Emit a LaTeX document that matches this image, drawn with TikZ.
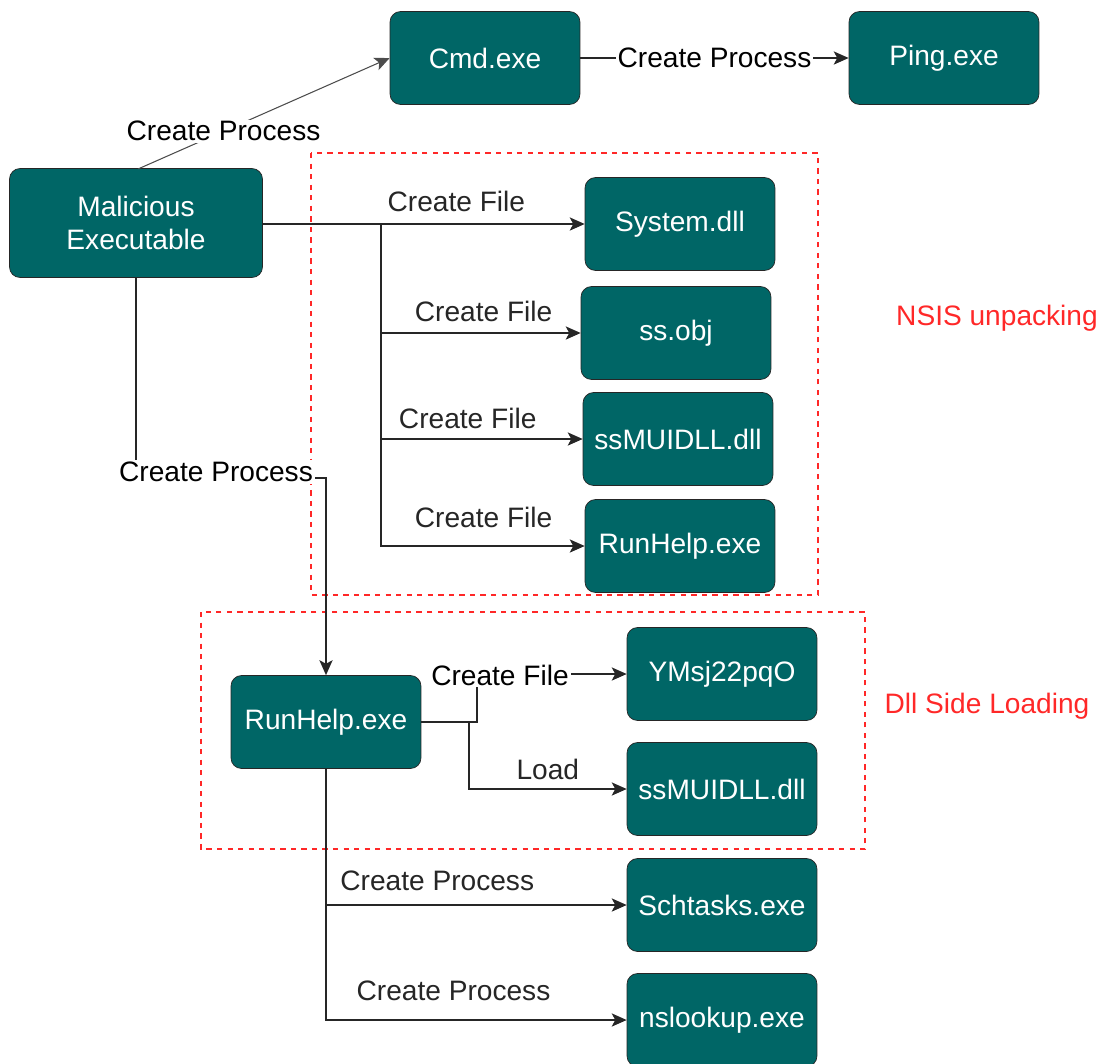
\documentclass[tikz,border=0pt]{standalone}
\usepackage{fontspec}
\setmainfont{Liberation Sans}
\usetikzlibrary{calc,positioning,arrows.meta}
\definecolor{procteal}{RGB}{0,102,102}
\definecolor{noteRed}{RGB}{255,40,40}

\begin{document}
\begin{tikzpicture}[x=0.02cm, y=-0.02cm, >={Stealth[length=8.5pt,width=7.5pt,inset=2pt]},
                    font=\fontsize{16}{19}\selectfont]
        \tikzset{
            proc/.style={draw=black!85, fill=procteal, text=white, rounded corners=6pt,
                         minimum width=3.8cm, minimum height=1.86cm, align=center},
            lbl/.style ={fill=white, inner sep=1pt, text=black},
            edge/.style={->, line width=0.8pt, black!85},
            grp/.style ={draw=noteRed, dashed, line width=0.6pt},
            note/.style={text=noteRed}
        }
        \useasboundingbox (0,0) rectangle (1103,1063);
        %% ---- groups ----
        \draw[grp] (311,153) rectangle (818,595);
        \draw[grp] (201,612) rectangle (865,849);
        \node[note] (nsis) at (997,318) {NSIS unpacking};
        \node[note] (side) at (987,706) {Dll Side Loading};
        %% ---- processes ----
        \node[proc, minimum width=5.06cm, minimum height=2.18cm] (mal) at (136,223) {Malicious\\Executable};
        \node[proc] (cmd)  at (485,58)  {Cmd.exe};
        \node[proc] (ping) at (944,58)  {Ping.exe};
        %% ---- dropped files ----
        \node[proc] (sys)  at (680,224) {System.dll};
        \node[proc] (obj)  at (676,333) {ss.obj};
        \node[proc] (mui)  at (678,439) {ssMUIDLL.dll};
        \node[proc] (rhf)  at (680,546) {RunHelp.exe};
        %% ---- side loading ----
        \node[proc] (rh)   at (326,722) {RunHelp.exe};
        \node[proc] (yms)  at (722,674) {YMsj22pqO};
        \node[proc] (mui2) at (722,789) {ssMUIDLL.dll};
        \node[proc] (sch)  at (722,905) {Schtasks.exe};
        \node[proc] (nsl)  at (722,1020) {nslookup.exe};
        %% ---- Malicious -> Cmd -> Ping ----
        \draw[edge, black!70, line width=0.6pt] (138,169) -- node[lbl, pos=0.34]{Create Process} (cmd.west);
        \draw[edge] (cmd.east) -- node[lbl]{Create Process} (ping.west);
        %% ---- Malicious -> files ----
        \coordinate (fork) at (381,224);
        \draw[line width=1.4pt, black!85] (mal.east |- fork) -- (fork) -- ++(0,109);
        \draw[edge] (fork) -- node[above, yshift=3.4pt, pos=0.37]{Create File} (sys.west);
        \draw[edge] (fork) |- node[above, yshift=2.8pt, pos=0.757]{Create File} (obj.west);
        \draw[edge] (fork) |- node[above, yshift=2.3pt, pos=0.715]{Create File} (mui.west);
        \draw[edge] (fork) |- node[above, yshift=6.8pt, pos=0.752]{Create File} (rhf.west);
        %% ---- Malicious -> RunHelp ----
        \draw[edge] (mal.south) -- (136,478) -- (326,478) -- (rh.north);
        \node[lbl] (cpl) at (216,472) {Create Process};
        %% ---- RunHelp -> YMsj22pqO / ssMUIDLL.dll ----
        \draw[edge] (rh.east) -- (477,722) -- (477,674) -- (yms.west);
        \node[lbl] (cfl) at (500,675) {Create File};
        \draw[edge] (rh.east) -- (469,722) |- node[above, yshift=1.7pt, pos=0.75]{Load} (mui2.west);
        %% ---- RunHelp -> Schtasks / nslookup ----
        \draw[edge] (rh.south) |- node[above, yshift=4.5pt, pos=0.685]{Create Process} (sch.west);
        \draw[edge] (rh.south) |- node[above, yshift=7.4pt, pos=0.712]{Create Process} (nsl.west);
    \end{tikzpicture}
\end{document}
